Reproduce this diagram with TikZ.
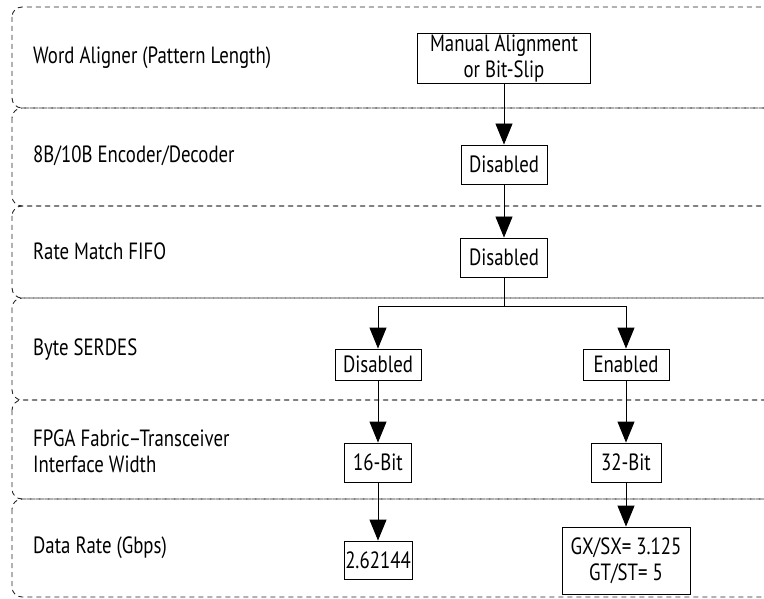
\documentclass[tikz,border=0pt]{standalone}
\usepackage{fontspec}
\setmainfont[FakeStretch=0.8]{PT Sans}
\usetikzlibrary{arrows.meta}
\begin{document}
\begin{tikzpicture}[x=1pt,y=-1pt,
  band/.style={draw=black!85,line width=0.9pt,dash pattern=on 5pt off 4pt,rounded corners=10pt},
  lbl/.style={anchor=west,inner sep=0pt,font=\fontsize{23.5}{26}\selectfont,align=left},
  box/.style={draw,line width=0.9pt,inner sep=0pt,font=\fontsize{23.5}{26}\selectfont,align=center},
  arr/.style={line width=0.9pt,-{Triangle[width=17pt,length=21pt]}},
  ln/.style={line width=0.9pt}]
\useasboundingbox (0,0) rectangle (764,599);
\begin{scope}
\clip (0,0) rectangle (764,599);
\draw[band] (12,7) rectangle (774,108);
\draw[band] (12,108) rectangle (774,206);
\draw[band] (12,206) rectangle (774,298);
\draw[band] (12,298) rectangle (774,400);
\draw[band] (12,400) rectangle (774,499);
\draw[band] (12,499) rectangle (774,597);
\end{scope}
% labels
\node[lbl] (l1) at (33,58) {Word Aligner (Pattern Length)};
\node[lbl] (l2) at (33,156) {8B/10B Encoder/Decoder};
\node[lbl] (l3) at (33,251) {Rate Match FIFO};
\node[lbl] (l4) at (33,350) {Byte SERDES};
\node[lbl] (l5) at (33,451) {FPGA Fabric--Transceiver\\Interface Width};
\node[lbl] (l6) at (33,548) {Data Rate (Gbps)};
% boxes
\node[box,minimum width=173pt,minimum height=50pt] (man) at (504,58) {Manual Alignment\\or Bit-Slip};
\node[box,minimum width=86pt,minimum height=39pt] (d1) at (504,164.5) {Disabled};
\node[box,minimum width=87pt,minimum height=39pt] (d2) at (504,257.5) {Disabled};
\node[box,minimum width=86pt,minimum height=31pt] (dl) at (378,364.5) {Disabled};
\node[box,minimum width=86pt,minimum height=31pt] (en) at (626,364.5) {Enabled};
\node[box,minimum width=67pt,minimum height=39pt] (b16) at (378,462.5) {16-Bit};
\node[box,minimum width=70pt,minimum height=39pt] (b32) at (626,462.5) {32-Bit};
\node[box,minimum width=68pt,minimum height=38pt] (r1) at (378,560) {2.62144};
\node[box,minimum width=128pt,minimum height=67pt] (r2) at (626,560.5) {GX/SX= 3.125\\GT/ST= 5};
% connectors
\coordinate (split) at (504,306);
\draw[arr] (man) -- (d1);
\draw[arr] (d1) -- (d2);
\draw[ln] (d2) -- (split);
\draw[arr] (split) -| (dl.north);
\draw[arr] (split) -| (en.north);
\draw[arr] (dl) -- (b16);
\draw[arr] (en) -- (b32);
\draw[arr] (b16) -- (r1);
\draw[arr] (b32) -- (r2);
\end{tikzpicture}
\end{document}
